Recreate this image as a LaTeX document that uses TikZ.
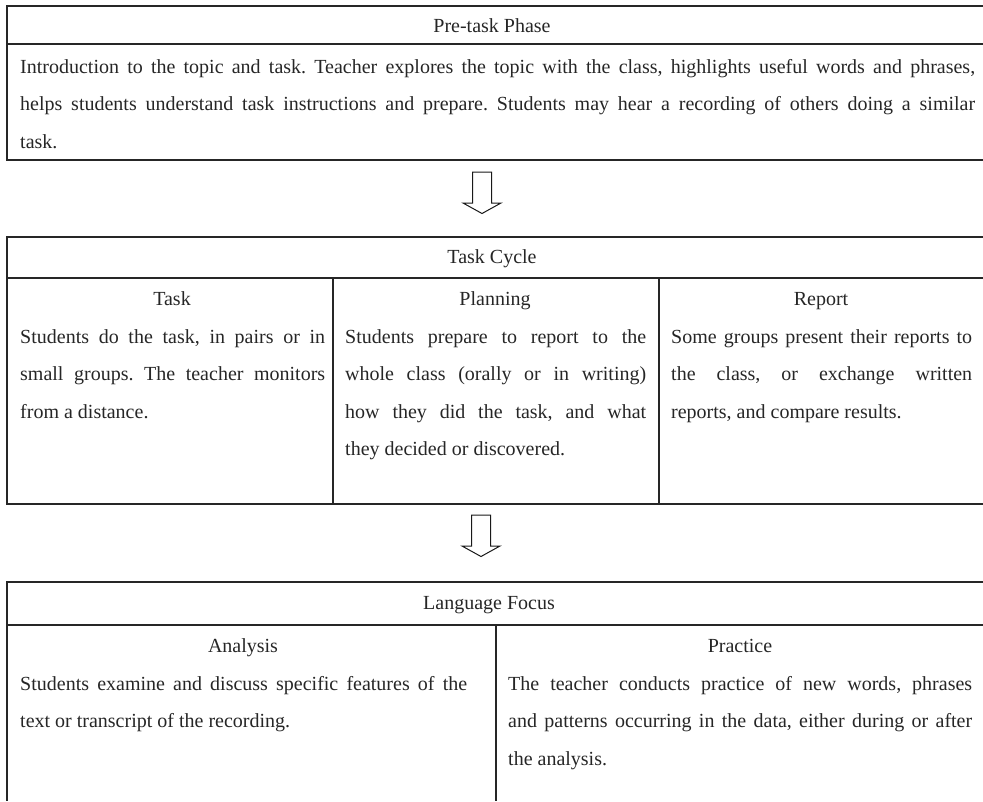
\documentclass[tikz,border=0pt]{standalone}
\usepackage{fontspec}
\setmainfont{Liberation Serif}
\usetikzlibrary{calc}

\tikzset{
	frame/.style={draw=black!85, line width=1.6pt},
	divider/.style={draw=black!85, line width=1.3pt},
	heading/.style={font=\fontsize{20}{24}\selectfont, text=black!85, inner sep=0pt, anchor=base},
	cell/.style={font=\fontsize{20}{37.5}\selectfont\frenchspacing, text=black!85, inner sep=0pt, align=justify, anchor=base west},
	downarrow/.pic={
		\draw[black!90, line width=1pt, fill=white] (-9.5,0) -- (-9.5,31) -- (-19,31) -- (0,41.5) -- (19,31) -- (9.5,31) -- (9.5,0) -- cycle;
	}
}

\begin{document}
\begin{tikzpicture}[x=1pt, y=-1pt]
	\useasboundingbox (0,0) rectangle (983,801);
	
	% Pre-task phase
	\draw[frame] (983,6) -- (7,6) -- (7,160) -- (983,160);
	\draw[frame] (7,44) -- (983,44);
	\coordinate (pre-bot) at (482,160);
	\node[heading] (pre) at (492,32) {Pre-task Phase};
	\node[cell, text width=955pt] (prebody) at (20,73) {Introduction to the topic and task. Teacher explores the topic with the class, highlights useful words and phrases,\linebreak helps students understand task instructions and prepare. Students may hear a recording of others doing a similar\linebreak task.};
	
	\pic at ($(pre-bot)+(0,12)$) {downarrow};
	
	% Task cycle
	\draw[frame] (983,237) -- (7,237) -- (7,504) -- (983,504);
	\draw[frame] (7,278) -- (983,278);
	\draw[divider] (333,278) -- (333,504);
	\draw[divider] (659,278) -- (659,504);
	\coordinate (cyc-bot) at (481,504);
	\node[heading] (cycle) at (492,263) {Task Cycle};
	\node[heading] (task) at (172,305) {Task};
	\node[heading] (plan) at (495,305) {Planning};
	\node[heading] (report) at (821,305) {Report};
	\node[cell, text width=305pt] (taskbody) at (20,343) {Students do the task, in pairs or in\linebreak small groups. The teacher monitors\linebreak from a distance.};
	\node[cell, text width=301pt] (planbody) at (345,343) {Students prepare to report to the\linebreak whole class (orally or in writing)\linebreak how they did the task, and what\linebreak they decided or discovered.};
	\node[cell, text width=301pt] (reportbody) at (671,343) {Some groups present their reports to\linebreak the class, or exchange written\linebreak reports, and compare results.};
	
	\pic at ($(cyc-bot)+(0,11)$) {downarrow};
	
	% Language focus
	\draw[frame] (983,582) -- (7,582) -- (7,801);
	\draw[frame] (7,625) -- (983,625);
	\draw[divider] (496,625) -- (496,801);
	\node[heading] (focus) at (489,609) {Language Focus};
	\node[heading] (analysis) at (243,652) {Analysis};
	\node[heading] (practice) at (740,652) {Practice};
	\node[cell, text width=447pt] (analysisbody) at (20,690) {Students examine and discuss specific features of the\linebreak text or transcript of the recording.};
	\node[cell, text width=464pt] (practicebody) at (508,690) {The teacher conducts practice of new words, phrases\linebreak and patterns occurring in the data, either during or after\linebreak the analysis.};
\end{tikzpicture}
\end{document}
